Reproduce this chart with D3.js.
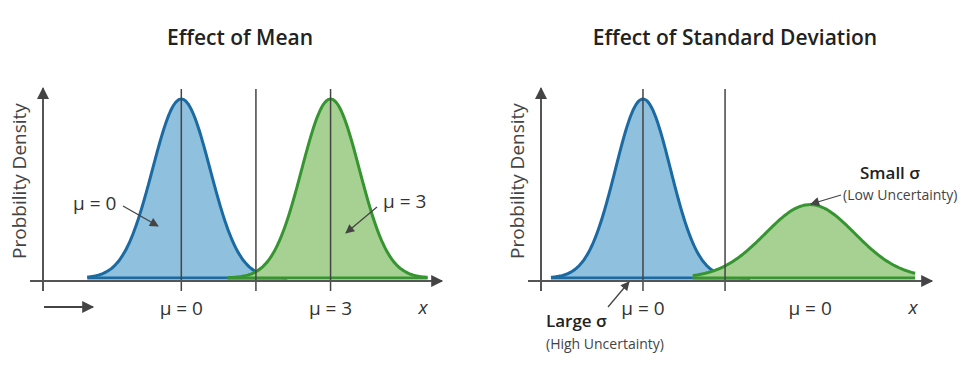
<!DOCTYPE html>
<html><head><meta charset="utf-8">
<script src="https://cdn.jsdelivr.net/npm/d3@7/dist/d3.min.js"></script>
<style>
html,body{margin:0;padding:0;background:#fff;}
svg text{font-family:"Open Sans",sans-serif;fill:#333;}
</style></head>
<body>
<svg id="c" width="966" height="371"></svg>
<script>
// ---- data ----
const panelTitles = ["Effect of Mean", "Effect of Standard Deviation"];
const yLabel = "Probbility Density";
// left panel curves: mean, sigma, peak height, [from, to]
const meanNames = ["blue", "green"];
const meanMeans = [0, 3];
const meanSigmas = [0.58, 0.58];
const meanPeaks = [1, 1];
const meanRanges = [[-1.89, 2.13], [0.93, 4.95]];
const meanTickValues = [0, 3];
const meanTickLabels = ["μ = 0", "μ = 3"];
const meanGuides = [0, 1.5, 3];
// right panel curves
const sdNames = ["blue", "green"];
const sdMeans = [0, 3.36];
const sdSigmas = [0.555, 0.9];
const sdPeaks = [1, 0.41];
const sdRanges = [[-1.85, 2.15], [1.0, 5.47]];
const sdTickValues = [0, 3.36];
const sdTickLabels = ["μ = 0", "μ = 0"];
const sdGuides = [0, 1.65];

const colors = {
  blue: {fill: "#8fc0dd", stroke: "#1b6aa2"},
  green: {fill: "#a6d192", stroke: "#379531"}
};

const svg = d3.select("#c");
const defs = svg.append("defs");
function marker(id, w, h) {
  defs.append("marker").attr("id", id).attr("viewBox", "0 0 10 10")
    .attr("refX", 9).attr("refY", 5).attr("markerWidth", w).attr("markerHeight", h)
    .attr("markerUnits", "userSpaceOnUse").attr("orient", "auto")
    .append("path").attr("d", "M0,0 L10,5 L0,10 Z").attr("fill", "#444");
}
marker("ax", 13, 12);
marker("an", 10, 9);

const y = d3.scaleLinear().domain([0, 1]).range([278, 99]);

function panel(cfg) {
  const g = svg.append("g");
  const x = cfg.x;
  // title
  g.append("text").attr("x", cfg.titleX).attr("y", 45).attr("text-anchor", "middle")
    .style("font-size", "21px").style("font-weight", 600).style("fill", "#222")
    .text(cfg.title);
  // y label
  g.append("text").attr("transform", `translate(${cfg.yLabelX},181) rotate(-90)`)
    .attr("text-anchor", "middle").style("font-size", "19px").style("fill", "#444")
    .text(yLabel);
  // curves
  cfg.names.forEach((n, i) => {
    const [a, b] = cfg.ranges[i];
    const pts = d3.range(a, b + 0.0001, (b - a) / 200).map(v => [v, cfg.peaks[i] * Math.exp(-((v - cfg.means[i]) ** 2) / (2 * cfg.sigmas[i] ** 2))]);
    const area = d3.area().x(d => x(d[0])).y0(y(0)).y1(d => y(d[1])).curve(d3.curveBasis);
    const line = d3.line().x(d => x(d[0])).y(d => y(d[1])).curve(d3.curveBasis);
    g.append("path").attr("d", area(pts)).attr("fill", colors[n].fill);
    g.append("path").attr("d", line(pts)).attr("fill", "none").attr("stroke", colors[n].stroke).attr("stroke-width", 3);
    g.append("line").attr("x1", x(a)).attr("x2", x(b)).attr("y1", y(0)).attr("y2", y(0))
      .attr("stroke", colors[n].stroke).attr("stroke-width", 3);
  });
  // guides
  cfg.guides.forEach(v => {
    g.append("line").attr("x1", x(v)).attr("x2", x(v)).attr("y1", 89).attr("y2", 291)
      .attr("stroke", "#444").attr("stroke-width", 1.5);
  });
  // axes
  const axY = y(-0.017);
  g.append("line").attr("x1", cfg.axStart).attr("x2", x.range()[1]).attr("y1", axY).attr("y2", axY)
    .attr("stroke", "#555").attr("stroke-width", 2).attr("marker-end", "url(#ax)");
  g.append("line").attr("x1", x.range()[0]).attr("x2", x.range()[0]).attr("y1", 291).attr("y2", y(1.06))
    .attr("stroke", "#555").attr("stroke-width", 2).attr("marker-end", "url(#ax)");
  // tick labels
  cfg.tickValues.forEach((v, i) => {
    g.append("text").attr("x", x(v)).attr("y", 315).attr("text-anchor", "middle")
      .style("font-size", "19px").text(cfg.tickLabels[i]);
  });
  g.append("text").attr("x", cfg.xLabelX).attr("y", 314).attr("text-anchor", "middle")
    .style("font-size", "19px").style("font-style", "italic").text("x");
  return g;
}

const xL = d3.scaleLinear().domain([-2.78, 5.24]).range([43, 442]);
const gL = panel({x: xL, title: panelTitles[0], titleX: 240, yLabelX: 26, names: meanNames,
  means: meanMeans, sigmas: meanSigmas, peaks: meanPeaks, ranges: meanRanges,
  guides: meanGuides, tickValues: meanTickValues, tickLabels: meanTickLabels, axStart: 30, xLabelX: 423});
const xR = d3.scaleLinear().domain([-2.05, 5.81]).range([541, 932]);
const gR = panel({x: xR, title: panelTitles[1], titleX: 735, yLabelX: 524, names: sdNames,
  means: sdMeans, sigmas: sdSigmas, peaks: sdPeaks, ranges: sdRanges,
  guides: sdGuides, tickValues: sdTickValues, tickLabels: sdTickLabels, axStart: 528, xLabelX: 913});

// annotations
function arrow(g, x1, y1, x2, y2, m, w) {
  g.append("line").attr("x1", x1).attr("y1", y1).attr("x2", x2).attr("y2", y2)
    .attr("stroke", "#444").attr("stroke-width", w || 1.3).attr("marker-end", `url(#${m || "an"})`);
}
gL.append("text").attr("x", 73).attr("y", 210).style("font-size", "19px").text("μ = 0");
arrow(gL, 123, 206, 158, 226);
gL.append("text").attr("x", 383).attr("y", 208).style("font-size", "19px").text("μ = 3");
arrow(gL, 377, 207, 346, 233);
arrow(gL, 44, 307, 93, 307, "ax", 2);

gR.append("text").attr("x", 890).attr("y", 179).attr("text-anchor", "middle")
  .style("font-size", "17px").style("font-weight", 600).style("fill", "#222").text("Small σ");
gR.append("text").attr("x", 843).attr("y", 200).style("font-size", "14px").style("fill", "#444").text("(Low Uncertainty)");
arrow(gR, 841, 195, 811, 204);
gR.append("text").attr("x", 546).attr("y", 327)
  .style("font-size", "17px").style("font-weight", 600).style("fill", "#222").text("Large σ");
gR.append("text").attr("x", 546).attr("y", 349).style("font-size", "14px").style("fill", "#444").text("(High Uncertainty)");
arrow(gR, 608, 307, 629, 282);
</script>
</body></html>
